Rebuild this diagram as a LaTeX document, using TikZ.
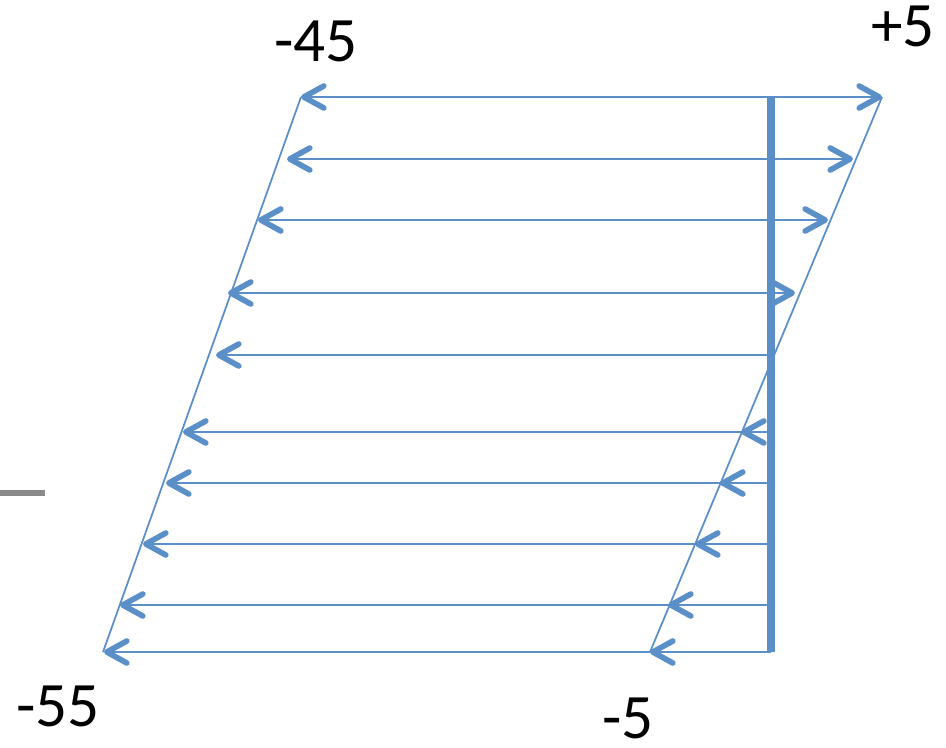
\documentclass[tikz,border=0pt]{standalone}
\usepackage{fontspec}
\setmainfont{Carlito}
\usepackage{xcolor}
\usetikzlibrary{arrows.meta}
\definecolor{stressblue}{HTML}{5B8FC8}
\definecolor{markgray}{HTML}{8A8A8A}
\tikzset{
  outline/.style={
    draw=stressblue,
    line width=1pt,
  },
  axisline/.style={
    draw=stressblue,
    line width=4pt,
  },
  stressarrow/.style={
    -{Straight Barb[length=0.4cm,width=0.44cm,line width=3.2pt,round]},
    draw=stressblue,
    line width=1.2pt,
  },
  valuelabel/.style={
    inner sep=0pt,
    font=\fontsize{36}{36}\selectfont,
    text=black,
  },
}

\begin{document}
\begin{tikzpicture}[x=0.02cm, y=-0.02cm]
  \useasboundingbox (0,0) rectangle (946,747);

  % corners of the distribution
  \coordinate (topleft) at (301,97);
  \coordinate (botleft) at (103,652);
  \coordinate (topright) at (882,97);
  \coordinate (botright) at (650,652);
  \coordinate (axistop) at (771,97);
  \coordinate (axisbot) at (771,652);

  \draw[outline] (topleft) -- (botleft);
  \draw[outline] (topright) -- (botright);

  % arrows from the axis to both edges
  \foreach \y/\xl/\xr [count=\i] in {97/301/882, 159/287/853, 220/258/828,
      293/228/795, 432/183/741, 483/166/720, 544/143/695, 605/120/668, 652/104/650} {
    \coordinate (a\i) at (771,\y);
    \coordinate (l\i) at (\xl,\y);
    \coordinate (r\i) at (\xr,\y);
    \draw[stressarrow] (a\i) -- (l\i);
    \draw[stressarrow] (a\i) -- (r\i);
  }
  \coordinate (amid) at (771,355);
  \coordinate (lmid) at (216,355);
  \draw[stressarrow] (amid) -- (lmid);

  \draw[axisline] (axistop) -- (axisbot);

  % gray mark at the left edge
  \coordinate (markstart) at (0,493);
  \coordinate (markend) at (45,493);
  \draw[markgray, line width=3.5pt] (markstart) -- (markend);

  \node[valuelabel] (lbltopleft) at (316,41) {-45};
  \node[valuelabel] (lbltopright) at (903,26) {+5};
  \node[valuelabel] (lblbotleft) at (58,706) {-55};
  \node[valuelabel] (lblbotright) at (628,718) {-5};
\end{tikzpicture}
\end{document}
